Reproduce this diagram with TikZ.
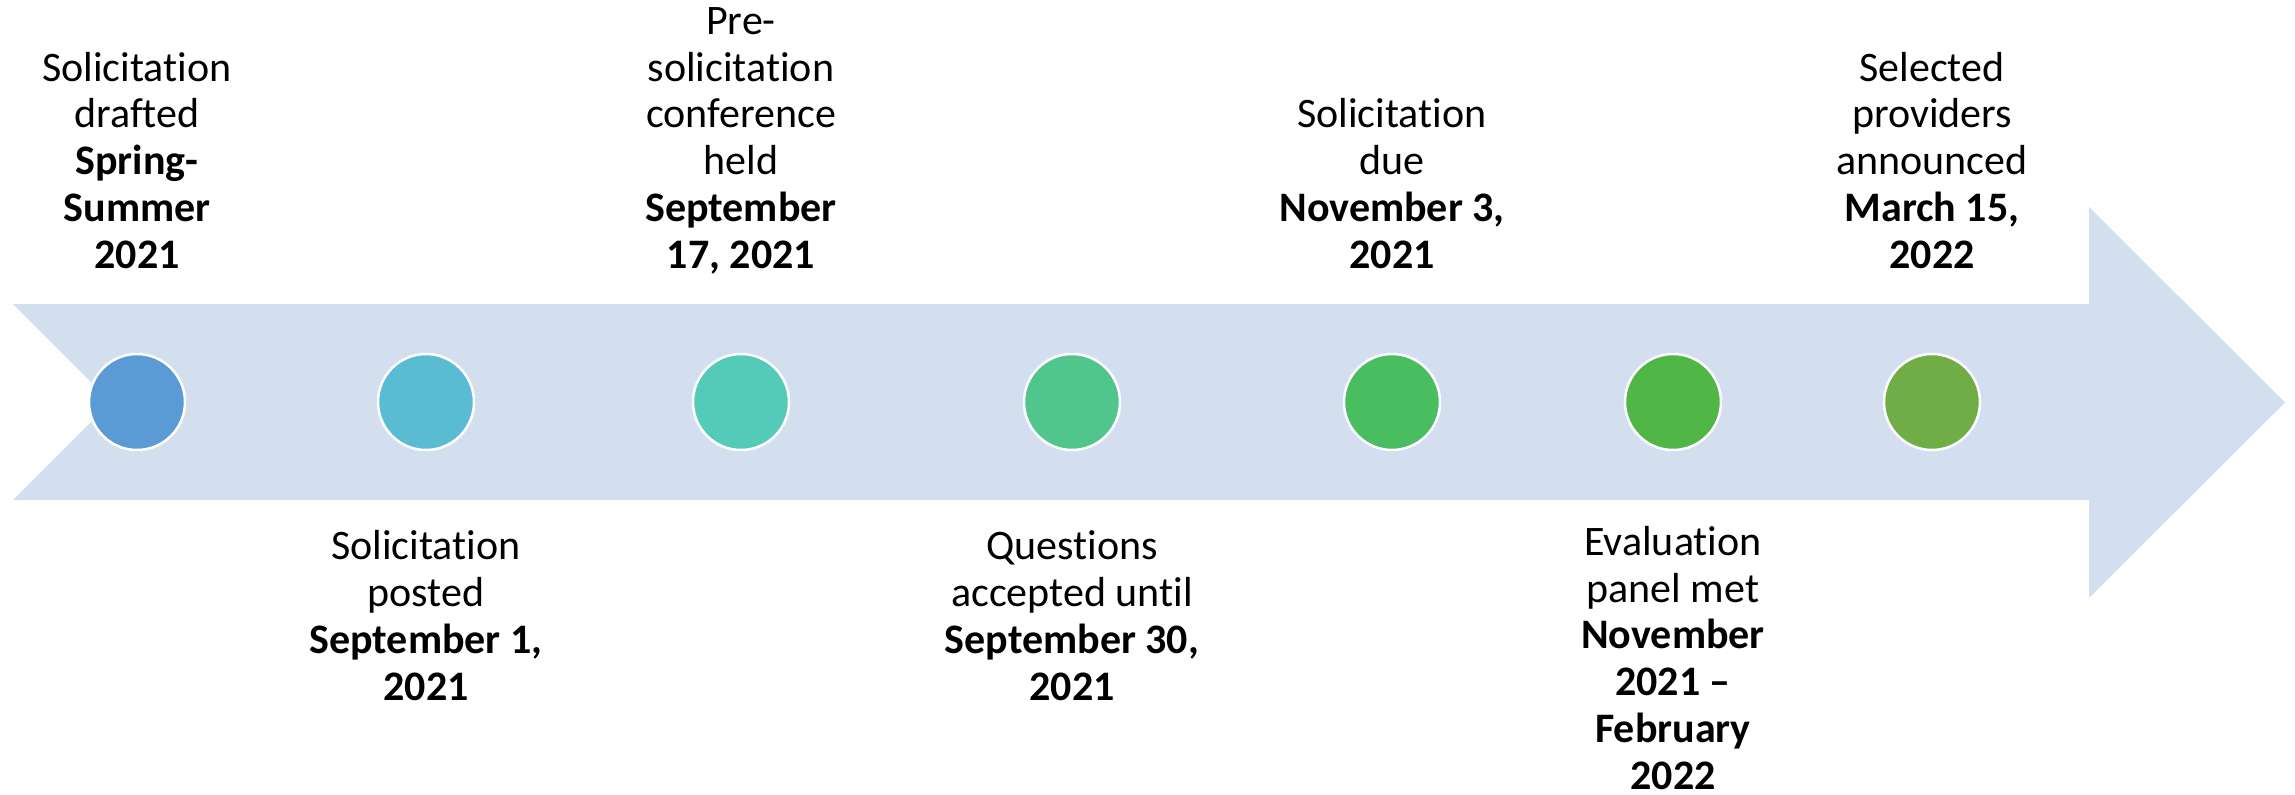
\documentclass[tikz,border=0pt]{standalone}
\usepackage{fontspec}
\setmainfont{Carlito}[RawFeature={-liga;-clig;-dlig;-calt}]
\definecolor{band}{HTML}{D3DEEF}
\definecolor{cA}{HTML}{5B9BD5}
\definecolor{cB}{HTML}{5ABCD3}
\definecolor{cC}{HTML}{53CBB8}
\definecolor{cD}{HTML}{50C58C}
\definecolor{cE}{HTML}{48BE60}
\definecolor{cF}{HTML}{50B646}
\definecolor{cG}{HTML}{70AD47}
\tikzset{
  dot/.style={circle, draw=white, line width=2.5pt, minimum size=96pt, inner sep=0pt},
  lbl/.style={align=center, inner sep=0pt, anchor=base, font=\fontsize{42}{46.7}\selectfont},
}
\begin{document}
\begin{tikzpicture}[x=1pt,y=-1pt]
\useasboundingbox (0,0) rectangle (2295,795);
\fill[band] (13,304) -- (2089,304) -- (2089,207) -- (2285,402.5) -- (2089,598) -- (2089,500) -- (13,500) -- (111,402) -- cycle;
\node[dot, fill=cA] (d1) at (137,402) {};
\node[dot, fill=cB] (d2) at (426,402) {};
\node[dot, fill=cC] (d3) at (741,402) {};
\node[dot, fill=cD] (d4) at (1072,402) {};
\node[dot, fill=cE] (d5) at (1392,402) {};
\node[dot, fill=cF] (d6) at (1673,402) {};
\node[dot, fill=cG] (d7) at (1932,402) {};
\node[lbl] (t1) at (137,268) {Solicitation\\drafted\\\textbf{Spring-}\\\textbf{Summer}\\\textbf{2021}};
\node[lbl] (t3) at (741,268) {Pre-\\solicitation\\conference\\held\\\textbf{September}\\\textbf{17, 2021}};
\node[lbl] (t5) at (1392,268) {Solicitation\\due\\\textbf{November 3,}\\\textbf{2021}};
\node[lbl] (t7) at (1932,268) {Selected\\providers\\announced\\\textbf{March 15,}\\\textbf{2022}};
\node[lbl] (t2) at (426,700) {Solicitation\\posted\\\textbf{September 1,}\\\textbf{2021}};
\node[lbl] (t4) at (1072,700) {Questions\\accepted until\\\textbf{September 30,}\\\textbf{2021}};
\node[lbl] (t6) at (1673,789) {Evaluation\\panel met\\\textbf{November}\\\textbf{2021 –}\\\textbf{February}\\\textbf{2022}};
\end{tikzpicture}
\end{document}
